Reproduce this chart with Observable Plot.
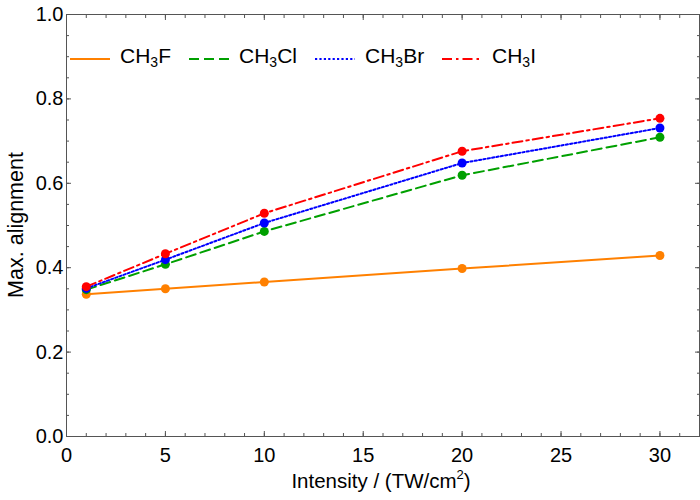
<!DOCTYPE html>
<html>
<head>
<meta charset="utf-8">
<script src="https://cdn.jsdelivr.net/npm/d3@7"></script>
<script src="https://cdn.jsdelivr.net/npm/@observablehq/plot@0.6"></script>
<style>
  html, body { margin: 0; padding: 0; background: #fff; }
  #wrap { position: relative; width: 700px; height: 500px; }
</style>
</head>
<body>
<div id="wrap"></div>
<script>
const intensity = [1, 5, 10, 20, 30];
const ch3f  = [0.337, 0.350, 0.366, 0.398, 0.429];
const ch3cl = [0.348, 0.408, 0.486, 0.619, 0.709];
const ch3br = [0.351, 0.419, 0.506, 0.648, 0.731];
const ch3i  = [0.355, 0.433, 0.529, 0.676, 0.754];

const names = ["F", "Cl", "Br", "I"];
const seriesValues = [ch3f, ch3cl, ch3br, ch3i];
const colors = ["#ff8000", "#00a000", "#0000ff", "#ff0000"];
const dashes = [null, "10,5", "2.2,2.2", "10,4,2.5,4"];

const xMajor = [0, 5, 10, 15, 20, 25, 30];
const xMinor = d3.range(0, 33, 1);
const yMajor = [0, 0.2, 0.4, 0.6, 0.8, 1.0];
const yMinor = d3.range(0, 1.0001, 0.05);

const xLabel = ["Intensity / (TW/cm", "2", ")"];
const yLabel = "Max. alignment";

const FONT = "Liberation Sans, Arial, sans-serif";
const marks = [];
const frameColor = "#555";
const blank = () => "";

// inward tick marks on all four sides (minor and major)
for (const anchor of ["bottom", "top"]) {
  marks.push(Plot.axisX(xMinor, {anchor, tickSize: -3, tickFormat: blank, stroke: frameColor, label: null}));
  marks.push(Plot.axisX(xMajor, {anchor, tickSize: -5, tickFormat: blank, stroke: frameColor, label: null}));
}
for (const anchor of ["left", "right"]) {
  marks.push(Plot.axisY(yMinor, {anchor, tickSize: -3, tickFormat: blank, stroke: frameColor, label: null}));
  marks.push(Plot.axisY(yMajor, {anchor, tickSize: -5, tickFormat: blank, stroke: frameColor, label: null}));
}
// tick labels
marks.push(Plot.axisX(xMajor, {anchor: "bottom", tickSize: 0, tickPadding: 11, fill: "#000", fontSize: 20,
  label: null, tickFormat: d3.format("d")}));
marks.push(Plot.axisY(yMajor, {anchor: "left", tickSize: 0, tickPadding: 3, fill: "#000", fontSize: 20,
  tickFormat: d3.format(".1f"), label: null}));
marks.push(Plot.frame({stroke: frameColor, strokeWidth: 1}));

seriesValues.forEach((vals, i) => {
  const data = intensity.map((x, j) => ({x, y: vals[j]}));
  marks.push(Plot.line(data, {x: "x", y: "y", stroke: colors[i], strokeWidth: 2, strokeDasharray: dashes[i]}));
  marks.push(Plot.dot(data, {x: "x", y: "y", fill: colors[i], r: 4.5, stroke: "none"}));
});

const chart = Plot.plot({
  width: 700,
  height: 500,
  marginLeft: 66,
  marginRight: 1,
  marginTop: 14,
  marginBottom: 64,
  style: {fontFamily: FONT, fontSize: "20px", background: "white", overflow: "visible"},
  x: {domain: [0, 32]},
  y: {domain: [0, 1]},
  marks
});
document.getElementById("wrap").appendChild(chart);

const svg = d3.select(chart);
// axis titles
const xt = svg.append("text").attr("x", 381).attr("y", 488).attr("text-anchor", "middle")
  .attr("font-family", FONT).attr("font-size", 20.5).attr("fill", "#000");
xt.append("tspan").text(xLabel[0]);
xt.append("tspan").attr("font-size", 13).attr("dy", -9).text(xLabel[1]);
xt.append("tspan").attr("dy", 9).text(xLabel[2]);

svg.append("text").attr("transform", "translate(23,225) rotate(-90)").attr("text-anchor", "middle")
  .attr("font-family", FONT).attr("font-size", 21.5).attr("fill", "#000").text(yLabel);

// legend
const swX = [70, 189, 315, 442];
const txtX = [120, 239, 365, 492];
const lg = svg.append("g").attr("class", "legend").attr("text-anchor", "start");
names.forEach((n, i) => {
  lg.append("line").attr("x1", swX[i]).attr("x2", swX[i] + 40).attr("y1", 59).attr("y2", 59)
    .attr("stroke", colors[i]).attr("stroke-width", 2).attr("stroke-dasharray", dashes[i]);
  const t = lg.append("text").attr("x", txtX[i]).attr("y", 63).attr("text-anchor", "start")
    .attr("font-family", FONT).attr("font-size", 21).attr("fill", "#000");
  t.append("tspan").text("CH");
  t.append("tspan").attr("font-size", 14).attr("dy", 4).text("3");
  t.append("tspan").attr("dy", -4).text(n);
});
</script>
</body>
</html>
